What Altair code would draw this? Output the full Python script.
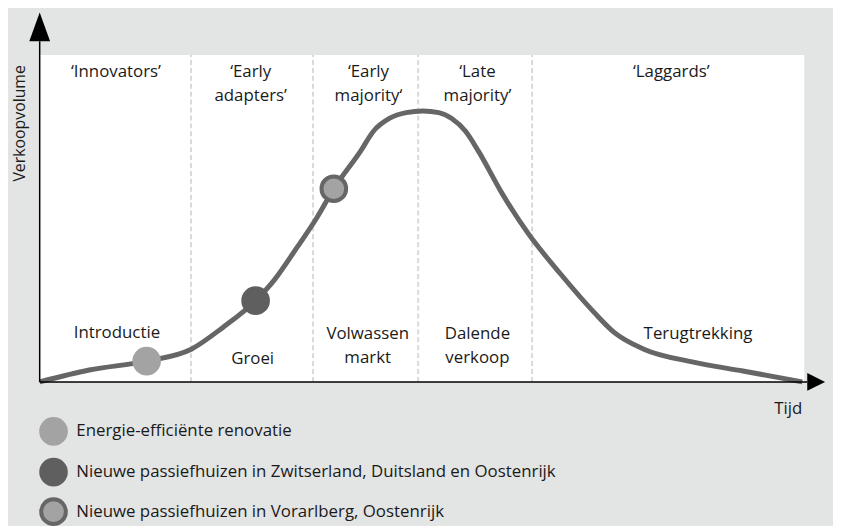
import altair as alt
import pandas as pd

# ---- data (time units 0-100, volume units 0-100) ----
curve_t = [0, 6.48, 13.99, 19.82, 23.96, 28.24, 30.70, 33.68, 36.27, 38.47, 41.97, 43.65,
           45.73, 47.93, 50.13, 52.2, 53.89, 55.7, 57.38, 60.49, 63.86, 68.13, 72.54,
           75.13, 79.02, 85.49, 91.97, 99.74]
curve_v = [0, 3.64, 6.36, 10.0, 16.67, 24.85, 31.2, 41.2, 50.3, 59.1, 70.6, 76.7,
           80.6, 82.4, 82.9, 82.4, 80.6, 76.7, 70.6, 57.6, 45.5, 33.0, 21.2,
           15.15, 10.0, 6.06, 3.33, 0]

separators_t = [19.8, 35.75, 49.5, 64.4]

top_labels = ["‘Innovators’", "‘Early", "adapters’", "‘Early", "majority‘", "‘Late", "majority’", "‘Laggards’"]
top_t = [9.97, 27.6, 27.6, 43.0, 43.0, 57.25, 57.25, 82.6]
top_v = [94.8, 94.8, 87.6, 94.8, 87.6, 94.8, 87.6, 94.8]

phase_labels = ["Introductie", "Groei", "Volwassen", "markt", "Dalende", "verkoop", "Terugtrekking"]
phase_t = [10.1, 27.85, 42.9, 42.9, 57.25, 57.25, 86.1]
phase_v = [14.9, 7.0, 14.6, 7.4, 14.6, 7.4, 14.6]

series = ["Energie-efficiënte renovatie",
          "Nieuwe passiefhuizen in Zwitserland, Duitsland en Oostenrijk",
          "Nieuwe passiefhuizen in Vorarlberg, Oostenrijk"]
marker_t = [13.99, 28.24, 38.47]
marker_v = [6.36, 24.85, 59.1]
marker_fill = ["#a3a3a3", "#5f5f5f", "#a3a3a3"]
marker_stroke = ["#a3a3a3", "#5f5f5f", "#666666"]

legend_t = [1.81, 1.81, 1.81]
legend_v = [-15.15, -27.6, -39.7]
legend_text_t = [4.79, 4.79, 4.79]

FONT = "Open Sans"
FS = 17
TXT = "#1a1a1a"

xs = alt.Scale(domain=[0, 100], nice=False, zero=False)
ys = alt.Scale(domain=[0, 100], nice=False, zero=False)
X = lambda f: alt.X(f, type="quantitative", scale=xs, axis=None)
Y = lambda f: alt.Y(f, type="quantitative", scale=ys, axis=None)

curve_df = pd.DataFrame({"t": curve_t, "v": curve_v})
sep_df = pd.DataFrame({"t": separators_t, "v0": [0] * 4, "v1": [100] * 4})
top_df = pd.DataFrame({"t": top_t, "v": top_v, "label": top_labels})
phase_df = pd.DataFrame({"t": phase_t, "v": phase_v, "label": phase_labels})
mk_df = pd.DataFrame({"t": marker_t, "v": marker_v, "s": series})
leg_df = pd.DataFrame({"t": legend_t, "v": legend_v, "tt": legend_text_t, "s": series})

color_fill = alt.Color("s:N", scale=alt.Scale(domain=series, range=marker_fill), legend=None)
color_stroke = alt.Stroke("s:N", scale=alt.Scale(domain=series, range=marker_stroke), legend=None)

seps = alt.Chart(sep_df).mark_rule(color="#d9d9d9", strokeWidth=2, strokeDash=[5, 3]).encode(
    x=X("t"), y=Y("v0"), y2="v1")

curve = alt.Chart(curve_df).mark_line(color="#666666", strokeWidth=5, interpolate="monotone", clip=False).encode(
    x=X("t"), y=Y("v"))

Y_TOP = 104.24
X_END = 100.39
yaxis = alt.Chart(pd.DataFrame({"t": [0], "v0": [0], "v1": [Y_TOP]})).mark_rule(
    color="black", strokeWidth=1.5, clip=False).encode(x=X("t"), y=Y("v0"), y2="v1")
xaxis = alt.Chart(pd.DataFrame({"t0": [0], "t1": [X_END], "v": [0]})).mark_rule(
    color="black", strokeWidth=1.5, clip=False).encode(x=X("t0"), x2="t1", y=Y("v"))

yarrow = alt.Chart(pd.DataFrame({"t": [0], "v": [Y_TOP]})).mark_point(
    shape="M0,-1L0.362,0L-0.362,0Z", size=3364, filled=True, fill="black", stroke=None,
    opacity=1, clip=False).encode(x=X("t"), y=Y("v"))
xarrow = alt.Chart(pd.DataFrame({"t": [X_END], "v": [0]})).mark_point(
    shape="M1,0L0,-0.5L0,0.5Z", size=1296, filled=True, fill="black", stroke=None,
    opacity=1, clip=False).encode(x=X("t"), y=Y("v"))

markers = alt.Chart(mk_df).mark_point(filled=True, opacity=1, strokeWidth=4, size=620, clip=False).encode(
    x=X("t"), y=Y("v"), fill=color_fill, stroke=color_stroke)

top_text = alt.Chart(top_df).mark_text(font=FONT, fontSize=FS, color=TXT, align="center", baseline="middle").encode(
    x=X("t"), y=Y("v"), text="label:N")
phase_text = alt.Chart(phase_df).mark_text(font=FONT, fontSize=FS, color=TXT, align="center", baseline="middle").encode(
    x=X("t"), y=Y("v"), text="label:N")

ytitle = alt.Chart(pd.DataFrame({"t": [-2.55], "v": [79.1], "label": ["Verkoopvolume"]})).mark_text(
    font=FONT, fontSize=16, color=TXT, angle=270, align="center", baseline="middle", clip=False).encode(
    x=X("t"), y=Y("v"), text="label:N")
xtitle = alt.Chart(pd.DataFrame({"t": [97.9], "v": [-8.2], "label": ["Tijd"]})).mark_text(
    font=FONT, fontSize=FS, color=TXT, align="center", baseline="middle", clip=False).encode(
    x=X("t"), y=Y("v"), text="label:N")

leg_pts = alt.Chart(leg_df).mark_point(filled=True, opacity=1, strokeWidth=4, size=620, clip=False).encode(
    x=X("t"), y=Y("v"), fill=color_fill, stroke=color_stroke)
leg_txt = alt.Chart(leg_df).mark_text(font=FONT, fontSize=FS, color=TXT, align="left", baseline="middle", clip=False).encode(
    x=X("tt"), y=Y("v"), text="s:N")

chart = alt.layer(
    seps, curve, yaxis, xaxis, yarrow, xarrow, markers, top_text, phase_text,
    ytitle, xtitle, leg_pts, leg_txt
).properties(
    width=772, height=330,
    background="#e3e4e4",
    padding={"left": 32, "top": 45, "right": 29, "bottom": 143},
    autosize=alt.AutoSizeParams(type="none"),
).configure_view(strokeWidth=0, fill="white")

chart.save("out.html", embed_options={"renderer": "svg", "actions": False})
